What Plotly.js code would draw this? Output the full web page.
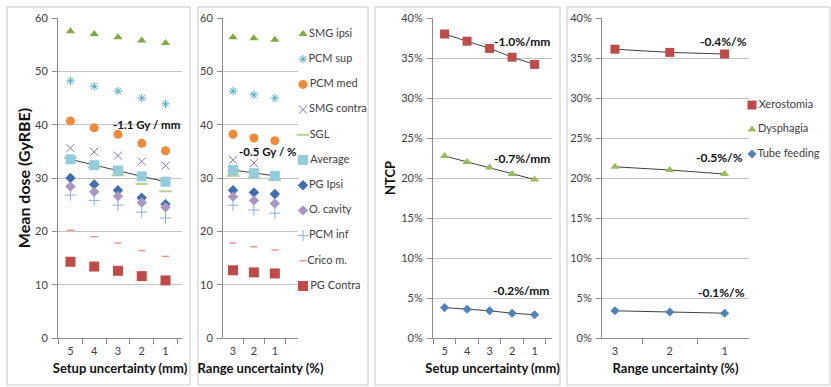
<!DOCTYPE html>
<html><head><meta charset="utf-8">
<script src="https://cdn.plot.ly/plotly-3.0.1.min.js"></script>
<style>html,body{margin:0;padding:0;background:#fff;}#chart{width:831px;height:387px;}</style>
</head><body><div id="chart"></div>
<script>
// ---- categories ----
const setupUnc = ['5','4','3','2','1'];
const rangeUnc = ['3','2','1'];
const structNames = ['SMG ipsi','PCM sup','PCM med','SMG contra','SGL','Average','PG Ipsi','O. cavity','PCM inf','Crico m.','PG Contra'];
const ntcpNames = ['Xerostomia','Dysphagia','Tube feeding'];

// ---- mean dose (GyRBE) vs setup uncertainty ----
const setupSMGipsi   = [57.5, 57.0, 56.4, 55.8, 55.3];
const setupPCMsup    = [48.2, 47.2, 46.3, 45.0, 43.9];
const setupPCMmed    = [40.7, 39.4, 38.2, 36.5, 35.1];
const setupSMGcontra = [35.6, 34.9, 34.2, 33.1, 32.3];
const setupSGL       = [33.8, 32.0, 30.5, 28.9, 27.5];
const setupAverage   = [33.5, 32.4, 31.4, 30.3, 29.3];
const setupPGipsi    = [30.0, 28.8, 27.7, 26.3, 25.1];
const setupOcavity   = [28.4, 27.4, 26.6, 25.4, 24.5];
const setupPCMinf    = [26.8, 25.8, 24.9, 23.6, 22.5];
const setupCrico     = [20.2, 19.0, 17.8, 16.4, 15.3];
const setupPGcontra  = [14.3, 13.4, 12.6, 11.6, 10.8];

// ---- mean dose (GyRBE) vs range uncertainty ----
const rangeSMGipsi   = [56.4, 56.2, 55.9];
const rangePCMsup    = [46.3, 45.6, 45.0];
const rangePCMmed    = [38.2, 37.5, 37.0];
const rangeSMGcontra = [33.4, 32.8, null];
const rangeSGL       = [30.4, 30.0, 29.6];
const rangeAverage   = [31.5, 30.9, 30.4];
const rangePGipsi    = [27.7, 27.3, 27.0];
const rangeOcavity   = [26.5, 25.8, 25.2];
const rangePCMinf    = [24.9, 24.0, 23.4];
const rangeCrico     = [17.8, 17.1, 16.5];
const rangePGcontra  = [12.7, 12.3, 12.1];

// ---- NTCP vs setup uncertainty ----
const ntcpSetupXero  = [0.380, 0.371, 0.362, 0.351, 0.342];
const ntcpSetupDys   = [0.2275, 0.220, 0.213, 0.205, 0.198];
const ntcpSetupTube  = [0.038, 0.036, 0.034, 0.031, 0.029];

// ---- NTCP vs range uncertainty ----
const ntcpRangeXero  = [0.361, 0.357, 0.355];
const ntcpRangeDys   = [0.214, 0.210, 0.205];
const ntcpRangeTube  = [0.034, 0.0325, 0.031];

// ---- text labels ----
const doseSlopeLabels = ['-1.1 Gy / mm', '-0.5 Gy / %'];
const ntcpSetupLabels = ['-1.0%/mm', '-0.7%/mm', '-0.2%/mm'];
const ntcpRangeLabels = ['-0.4%/%', '-0.5%/%', '-0.1%/%'];

const setupSeries = [setupSMGipsi, setupPCMsup, setupPCMmed, setupSMGcontra, setupSGL, setupAverage, setupPGipsi, setupOcavity, setupPCMinf, setupCrico, setupPGcontra];
const rangeSeries = [rangeSMGipsi, rangePCMsup, rangePCMmed, rangeSMGcontra, rangeSGL, rangeAverage, rangePGipsi, rangeOcavity, rangePCMinf, rangeCrico, rangePGcontra];
const ntcpSetupSeries = [ntcpSetupXero, ntcpSetupDys, ntcpSetupTube];
const ntcpRangeSeries = [ntcpRangeXero, ntcpRangeDys, ntcpRangeTube];

// ---- styles ----
const structStyle = [
  {symbol:'triangle-up', color:'#7EAA3F', size:8},
  {symbol:'asterisk-open', color:'#4BACC6', size:7, lw:1},
  {symbol:'circle', color:'#F08A38', size:9},
  {symbol:'x-thin-open', color:'#8A72AE', size:8, lw:1},
  {symbol:'line-ew-open', color:'#B5D18A', size:9, lw:2},
  {symbol:'square', color:'#93CDDD', size:10},
  {symbol:'diamond', color:'#3F6FB0', size:8},
  {symbol:'diamond', color:'#A897C6', size:8},
  {symbol:'cross-thin-open', color:'#8FAADC', size:8, lw:1},
  {symbol:'line-ew-open', color:'#E29794', size:5, lw:1.5},
  {symbol:'square', color:'#BE4B48', size:10}
];
const ntcpStyle = [
  {symbol:'square', color:'#BE4B48', size:9},
  {symbol:'triangle-up', color:'#9BBB59', size:8},
  {symbol:'diamond', color:'#4F81BD', size:7}
];

function mk(st){
  const m = {symbol: st.symbol, color: st.color, size: st.size};
  m.line = st.lw ? {color: st.color, width: st.lw} : {width: 0};
  return m;
}

const FONT = 'Lato, "Open Sans", sans-serif';
const legFont = {family: FONT, size: 11, color: '#404040'};
const traces = [];
const lineStyle = {color:'#404040', width:1};
traces.push({x: setupUnc, y: setupAverage, xaxis:'x', yaxis:'y', type:'scatter', mode:'lines', line:lineStyle, showlegend:false, hoverinfo:'skip'});
traces.push({x: rangeUnc, y: rangeAverage, xaxis:'x2', yaxis:'y2', type:'scatter', mode:'lines', line:lineStyle, showlegend:false, hoverinfo:'skip'});
ntcpSetupSeries.forEach(s => traces.push({x: setupUnc, y: s, xaxis:'x3', yaxis:'y3', type:'scatter', mode:'lines', line:lineStyle, showlegend:false, hoverinfo:'skip'}));
ntcpRangeSeries.forEach(s => traces.push({x: rangeUnc, y: s, xaxis:'x4', yaxis:'y4', type:'scatter', mode:'lines', line:lineStyle, showlegend:false, hoverinfo:'skip'}));

structNames.forEach((n, i) => {
  traces.push({x: setupUnc, y: setupSeries[i], xaxis:'x', yaxis:'y', type:'scatter', mode:'markers',
    marker: mk(structStyle[i]), name:n, showlegend:false, cliponaxis:false});
  traces.push({x: rangeUnc, y: rangeSeries[i], xaxis:'x2', yaxis:'y2', type:'scatter', mode:'markers',
    marker: mk(structStyle[i]), name:n, showlegend:false, cliponaxis:false});
  traces.push({x: [0], y: [n], xaxis:'x5', yaxis:'y5', type:'scatter', mode:'markers+text',
    text:[n], textposition:'middle right', textfont: legFont,
    marker: mk(structStyle[i]), name:n, showlegend:false, cliponaxis:false});
});
ntcpNames.forEach((n, i) => {
  traces.push({x: setupUnc, y: ntcpSetupSeries[i], xaxis:'x3', yaxis:'y3', type:'scatter', mode:'markers',
    marker: mk(ntcpStyle[i]), name:n, showlegend:false, cliponaxis:false});
  traces.push({x: rangeUnc, y: ntcpRangeSeries[i], xaxis:'x4', yaxis:'y4', type:'scatter', mode:'markers',
    marker: mk(ntcpStyle[i]), name:n, showlegend:false, cliponaxis:false});
  traces.push({x: [0], y: [n], xaxis:'x6', yaxis:'y6', type:'scatter', mode:'markers+text',
    text:[n], textposition:'middle right', textfont: legFont,
    marker: mk(ntcpStyle[i]), name:n, showlegend:false, cliponaxis:false});
});

const W = 831, H = 387;
const px = v => v / W;
const py = v => 1 - v / H;
const tickFont = {family: FONT, size: 11, color: '#404040'};
const titleFont = {family: FONT, size: 13, color: '#111', weight: 'bold'};

function xax(domain, anchor, title){
  return {domain: domain, anchor: anchor, type:'category', showline:true, linecolor:'#8C8C8C', linewidth:1,
    ticks:'outside', tickson:'boundaries', ticklen:5, tickcolor:'#8C8C8C', ticklabelstandoff:3,
    showgrid:false, zeroline:false, tickfont:tickFont, fixedrange:true, automargin:true,
    title:{text:title, font:titleFont, standoff:7}};
}
function yax(domain, anchor, range, dtick, fmt, title, tsize, standoff){
  return {domain: domain, anchor: anchor, range: range, dtick: dtick, tickformat: fmt,
    showline:true, linecolor:'#8C8C8C', linewidth:1, ticks:'outside', ticklen:5, tickcolor:'#8C8C8C',
    ticklabelstandoff:2, automargin:true,
    showgrid:true, gridcolor:'#C4C4C4', gridwidth:1, zeroline:false, tickfont:tickFont,
    fixedrange:true, title:{text:title, font:Object.assign({}, titleFont, {size: tsize}), standoff: standoff}};
}
const yDom = [py(338), py(18)];

const annotations = [
  {xref:'x', yref:'y', x:3.2, y:40.1, text:doseSlopeLabels[0], font:{size:11.5}},
  {xref:'x2', yref:'y2', x:1.65, y:34.9, text:doseSlopeLabels[1], font:{size:11.5}},
  {xref:'x3', yref:'y3', x:3.44, y:0.371, text:ntcpSetupLabels[0]},
  {xref:'x3', yref:'y3', x:3.44, y:0.225, text:ntcpSetupLabels[1]},
  {xref:'x3', yref:'y3', x:3.40, y:0.060, text:ntcpSetupLabels[2]},
  {xref:'x4', yref:'y4', x:1.98, y:0.371, text:ntcpRangeLabels[0]},
  {xref:'x4', yref:'y4', x:1.90, y:0.226, text:ntcpRangeLabels[1]},
  {xref:'x4', yref:'y4', x:1.94, y:0.0575, text:ntcpRangeLabels[2]}
].map(a => Object.assign({showarrow:false, xanchor:'center', yanchor:'middle'}, a,
  {font: Object.assign({family: FONT, size: 12, color: '#111', weight: 'bold'}, a.font || {})}));

function box(x0, x1){
  return {type:'rect', xref:'paper', yref:'paper', x0:px(x0), x1:px(x1), y0:py(385), y1:py(7),
    line:{color:'#C8C8C8', width:1}, fillcolor:'rgba(0,0,0,0)', layer:'below'};
}
const hidden = (domain, range, extra) => Object.assign({domain: domain, range: range, visible:false, fixedrange:true, showgrid:false, zeroline:false, automargin:false}, extra || {});

const layout = {
  width: W, height: H, margin:{l:0, r:0, t:0, b:0, autoexpand:false},
  paper_bgcolor:'#fff', plot_bgcolor:'rgba(0,0,0,0)',
  font:{family: FONT, size: 12, color:'#333'},
  showlegend: false,
  xaxis:  xax([px(58), px(182)], 'y', 'Setup uncertainty (mm)'),
  xaxis2: xax([px(223), px(298)], 'y2', 'Range uncertainty (%)'),
  xaxis3: xax([px(433), px(552)], 'y3', 'Setup uncertainty (mm)'),
  xaxis4: xax([px(602), px(749)], 'y4', 'Range uncertainty (%)'),
  yaxis:  yax(yDom, 'x', [0, 60], 10, '', 'Mean dose (GyRBE)', 16, 0),
  yaxis2: yax(yDom, 'x2', [0, 60], 10, '', '', 13, 0),
  yaxis3: yax(yDom, 'x3', [0, 0.40], 0.05, '.0%', 'NTCP', 13, 2),
  yaxis4: yax(yDom, 'x4', [0, 0.40], 0.05, '.0%', '', 13, 0),
  xaxis5: hidden([px(303), px(368)], [0, 1], {anchor:'y5'}),
  yaxis5: hidden([py(298.6), py(21.4)], [10.5, -0.5], {anchor:'x5', type:'category', categoryorder:'array', categoryarray: structNames}),
  xaxis6: hidden([px(752), px(830)], [0, 1], {anchor:'y6'}),
  yaxis6: hidden([py(166.25), py(92.75)], [2.5, -0.5], {anchor:'x6', type:'category', categoryorder:'array', categoryarray: ntcpNames}),
  annotations: annotations,
  shapes: [box(7, 190), box(198, 368), box(375, 560), box(567, 830)]
};

Plotly.newPlot('chart', traces, layout, {staticPlot:true, displayModeBar:false});
</script></body></html>
